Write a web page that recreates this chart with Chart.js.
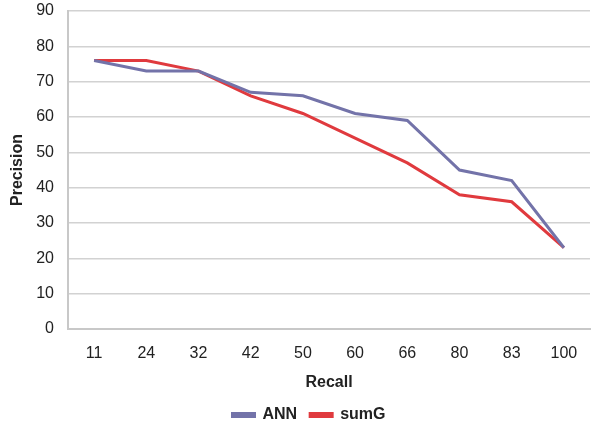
<!DOCTYPE html>
<html>
<head>
<meta charset="utf-8">
<script src="https://cdn.jsdelivr.net/npm/chart.js@4"></script>
<style>
html,body{margin:0;padding:0;background:#fff;}
#wrap{width:600px;height:424px;}
</style>
</head>
<body>
<div id="wrap"><canvas id="c" width="600" height="424"></canvas></div>
<script>
const categories = ["11","24","32","42","50","60","66","80","83","100"];
const annValues = [76,73,73,67,66,61,59,45,42,23];
const sumGValues = [76,76,73,66,61,54,47,38,36,23];
const yTicks = [0,10,20,30,40,50,60,70,80,90];

const FONT = "'Liberation Sans', Arial, sans-serif";
Chart.defaults.font.family = FONT;
Chart.defaults.color = '#222';

const legendShift = {
  id:'legendShift',
  afterLayout(chart){
    const l = chart.legend;
    if(!l) return;
    l.left += 10; l.right += 10;
    l.top += 2; l.bottom += 2;
  }
};

new Chart(document.getElementById('c'), {
  type: 'line',
  data: {
    labels: categories,
    datasets: [
      {label:'ANN', data: annValues, borderColor:'#7373a9', backgroundColor:'#7373a9', borderWidth:3, pointRadius:0, tension:0},
      {label:'sumG', data: sumGValues, borderColor:'#e03a3e', backgroundColor:'#e03a3e', borderWidth:3, pointRadius:0, tension:0}
    ]
  },
  plugins:[legendShift],
  options: {
    responsive:false,
    animation:false,
    layout:{padding:{top:11,right:10,left:8,bottom:-7}},
    plugins:{
      legend:{
        position:'bottom',
        labels:{boxWidth:22, boxHeight:3, padding:13, font:{size:16, weight:'bold', family:FONT}, color:'#222'}
      },
      tooltip:{enabled:false}
    },
    scales:{
      x:{
        offset:true,
        grid:{display:false, drawTicks:false, offset:true},
        border:{display:true, color:'#c8c8c8', width:2},
        ticks:{padding:15, font:{size:16, family:FONT}, color:'#222'},
        title:{display:true, text:'Recall', font:{size:16, weight:'bold', family:FONT}, color:'#222', padding:{top:12,bottom:0}},
        afterFit:(s)=>{s.height=63; s.paddingLeft=0; s.paddingRight=0;}
      },
      y:{
        min:0, max:90,
        afterBuildTicks:(s)=>{s.ticks = yTicks.map(v=>({value:v}));},
        grid:{color:'#d2d2d2', lineWidth:1.5, drawTicks:false},
        border:{display:true, color:'#c8c8c8', width:2},
        ticks:{padding:14, font:{size:16, family:FONT}, color:'#222'},
        title:{display:true, text:'Precision', font:{size:16, weight:'bold', family:FONT}, color:'#222', padding:{top:0,bottom:0}},
        afterFit:(s)=>{s.width=60; s.paddingTop=0; s.paddingBottom=0;}
      }
    }
  }
});
</script>
</body>
</html>
